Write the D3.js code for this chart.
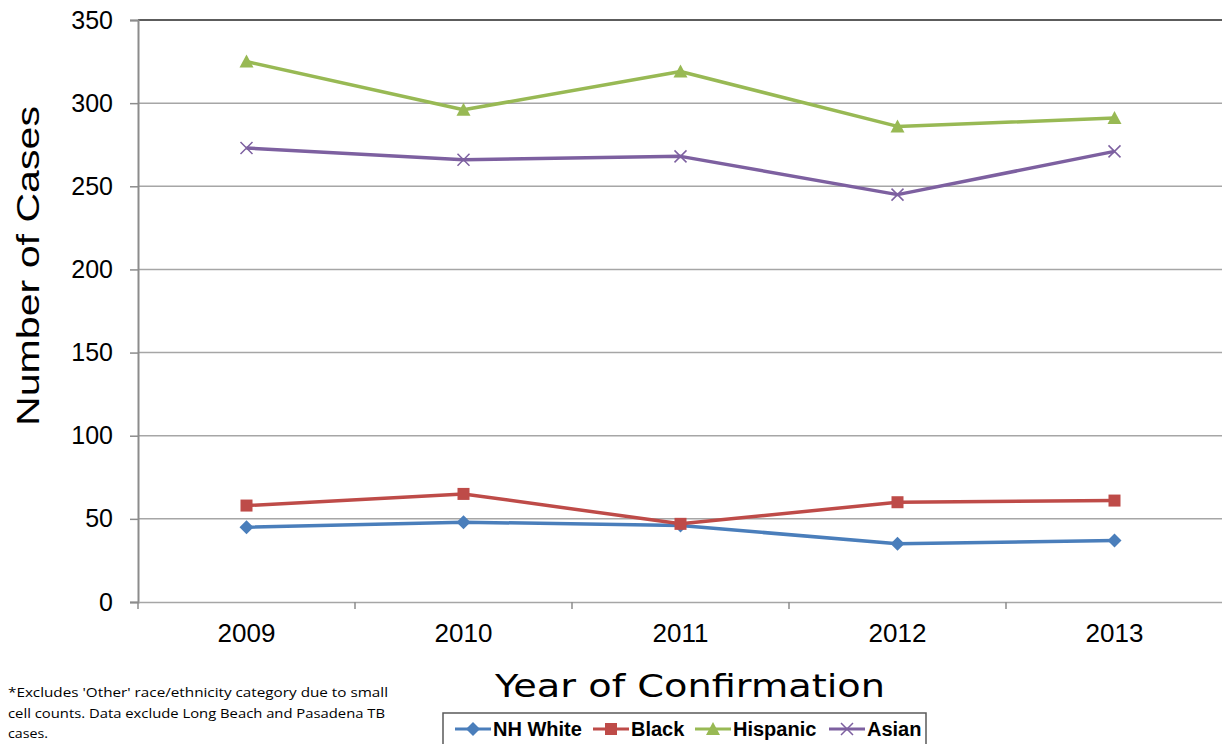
<!DOCTYPE html>
<html><head><meta charset="utf-8">
<script src="https://cdn.jsdelivr.net/npm/d3@7"></script>
<style>body{margin:0;background:#fff}svg{display:block}</style>
</head><body>
<svg id="c" width="1222" height="744"></svg>
<script>
const years = ["2009","2010","2011","2012","2013"];
const nhWhite = [45, 48, 46, 35, 37];
const black = [58, 65, 47, 60, 61];
const hispanic = [325, 296, 319, 286, 291];
const asian = [273, 266, 268, 245, 271];
const yTicks = [0,50,100,150,200,250,300,350];
const seriesNames = ["NH White","Black","Hispanic","Asian"];
const seriesColors = ["#4A7EBB","#BE4B48","#98B954","#7D60A0"];
const seriesMarkers = ["diamond","square","triangle","x"];

const series = [nhWhite, black, hispanic, asian].map((v,i)=>({name:seriesNames[i], values:v, color:seriesColors[i], marker:seriesMarkers[i]}));

const svg = d3.select("#c");
const L=138, R=1222, T=20, B=602;
const x = d3.scaleBand().domain(years).range([L, 1223]);
const y = d3.scaleLinear().domain([0,350]).range([B, T]);

// gridlines
svg.append("g").selectAll("line").data(yTicks.filter(d=>d>0)).join("line")
  .attr("x1",L).attr("x2",R).attr("y1",d=>y(d)).attr("y2",d=>y(d))
  .attr("stroke",d=>d===350?"#262626":"#a6a6a6").attr("stroke-width",1.5);

// y axis
const ya = svg.append("g").attr("transform",`translate(${L},0)`)
  .call(d3.axisLeft(y).tickValues(yTicks).tickSize(8).tickPadding(17));
ya.select(".domain").attr("stroke","#8c8c8c").attr("stroke-width",2);
ya.selectAll(".tick line").attr("stroke","#8c8c8c").attr("stroke-width",1.5);
ya.selectAll("text").attr("font-family","Liberation Sans, Arial, sans-serif").attr("font-size",25).attr("fill","#000");

// x axis
const xa = svg.append("g").attr("transform",`translate(0,${B})`)
  .call(d3.axisBottom(x).tickSize(0).tickPadding(22));
xa.select(".domain").attr("stroke","#a6a6a6").attr("stroke-width",1.5);
xa.selectAll("text").attr("font-family","Liberation Sans, Arial, sans-serif").attr("font-size",26).attr("fill","#000");
const bounds = years.map(d=>x(d)).concat([x(years[4])+x.bandwidth()]);
svg.append("g").selectAll("line").data(bounds.slice(1,5).concat([bounds[0]])).join("line")
  .attr("x1",d=>d).attr("x2",d=>d).attr("y1",B).attr("y2",B+7)
  .attr("stroke","#8c8c8c").attr("stroke-width",1.5);

// lines
const line = d3.line().x((d,i)=>x(years[i])+x.bandwidth()/2).y(d=>y(d));
function drawMarker(g, type, color, cx, cy, s){
  if(type==="diamond"){
    g.append("path").attr("d",`M${cx},${cy-7}L${cx+7},${cy}L${cx},${cy+7}L${cx-7},${cy}Z`).attr("fill",color);
  } else if(type==="square"){
    g.append("rect").attr("x",cx-6).attr("y",cy-6).attr("width",12).attr("height",12).attr("fill",color);
  } else if(type==="triangle"){
    g.append("path").attr("d",`M${cx},${cy-7}L${cx+7},${cy+6}L${cx-7},${cy+6}Z`).attr("fill",color);
  } else {
    g.append("path").attr("d",`M${cx-6},${cy-6}L${cx+6},${cy+6}M${cx-6},${cy+6}L${cx+6},${cy-6}`).attr("stroke",color).attr("stroke-width",1.5).attr("fill","none");
  }
}
series.forEach(s=>{
  const g = svg.append("g");
  g.append("path").datum(s.values).attr("d",line).attr("fill","none").attr("stroke",s.color).attr("stroke-width",3.5).attr("stroke-linejoin","round");
  s.values.forEach((v,i)=>drawMarker(g, s.marker, s.color, x(years[i])+x.bandwidth()/2, y(v)));
});

// axis titles
svg.append("text").attr("transform","translate(39,266) rotate(-90)").attr("text-anchor","middle")
  .attr("font-family","Liberation Sans, Arial, sans-serif").attr("font-size",31).attr("fill","#000")
  .attr("textLength",320).attr("lengthAdjust","spacingAndGlyphs").text("Number of Cases");
svg.append("text").attr("x",690).attr("y",697).attr("text-anchor","middle")
  .attr("font-family","DejaVu Sans, sans-serif").attr("font-size",32).attr("fill","#000")
  .attr("textLength",390).attr("lengthAdjust","spacingAndGlyphs").text("Year of Confirmation");

// footnote
const foot = ["*Excludes 'Other' race/ethnicity category due to small","cell counts. Data exclude Long Beach and Pasadena TB","cases."];
const footLen = [380, 377, 40];
svg.append("g").selectAll("text").data(foot).join("text")
  .attr("x",8).attr("y",(d,i)=>697+i*20.5)
  .attr("font-family","Open Sans, sans-serif").attr("font-size",13).attr("fill","#000")
  .attr("textLength",(d,i)=>footLen[i]).attr("lengthAdjust","spacingAndGlyphs").text(d=>d);

// legend
svg.append("rect").attr("x",443).attr("y",713).attr("width",483).attr("height",40)
  .attr("fill","#fff").attr("stroke","#595959").attr("stroke-width",1.5);
const legX = [455, 593, 695, 829];
series.forEach((s,i)=>{
  const g = svg.append("g");
  const lx = legX[i];
  g.append("line").attr("x1",lx).attr("x2",lx+36).attr("y1",729).attr("y2",729).attr("stroke",s.color).attr("stroke-width",3);
  drawMarker(g, s.marker, s.color, lx+18, 729);
  g.append("text").attr("x",lx+38).attr("y",736).attr("font-family","Liberation Sans, Arial, sans-serif")
    .attr("font-weight","bold").attr("font-size",20).attr("fill","#000").text(s.name);
});
</script>
</body></html>
